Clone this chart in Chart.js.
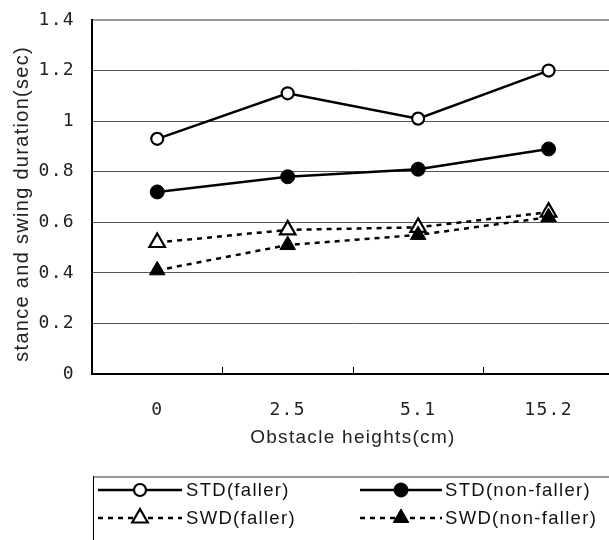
<!DOCTYPE html>
<html>
<head>
<meta charset="utf-8">
<script src="https://cdn.jsdelivr.net/npm/chart.js@4.4.1/dist/chart.umd.min.js"></script>
<style>
  html, body { margin: 0; padding: 0; background: #fff; overflow: hidden; }
  #wrap { position: absolute; left: 0; top: 0; width: 625px; height: 540px; }
</style>
</head>
<body>
<div id="wrap"><canvas id="c" width="625" height="540"></canvas></div>
<script>
// ---- data ----
const categories = ['0', '2.5', '5.1', '15.2'];
const stdFaller = [0.93, 1.11, 1.01, 1.20];
const stdNonFaller = [0.72, 0.78, 0.81, 0.89];
const swdFaller = [0.52, 0.57, 0.58, 0.64];
const swdNonFaller = [0.41, 0.51, 0.55, 0.62];
const seriesNames = ['STD(faller)', 'STD(non-faller)', 'SWD(faller)', 'SWD(non-faller)'];
const yTitle = 'stance and swing duration(sec)  ';
const xTitle = 'Obstacle heights(cm)';

const TEXT_FONT = "'Liberation Sans', Arial, sans-serif";
const TICK_FONT = "'DejaVu Sans Mono', monospace";

function ds(label, data, style, filled, dashed, order) {
  return {
    label, data, order,
    borderColor: '#000',
    borderWidth: 2.5,
    borderDash: dashed ? [5, 5] : [],
    tension: 0,
    fill: false,
    pointStyle: style,
    pointRadius: style === 'circle' ? (filled ? 7 : 6) : 9,
    pointBorderWidth: filled ? 1 : 2.2,
    pointBackgroundColor: filled ? '#000' : '#fff',
    pointBorderColor: '#000',
  };
}

const spacingPlugin = {
  id: 'spacing',
  beforeDraw(chart) { chart.ctx.letterSpacing = '1.3px'; }
};

const innerTicks = {
  id: 'innerTicks',
  beforeDatasetsDraw(chart) {
    const x = chart.scales.x, ctx = chart.ctx, b = chart.chartArea.bottom;
    ctx.save();
    ctx.strokeStyle = '#000';
    ctx.lineWidth = 1;
    for (let i = 0; i < categories.length - 1; i++) {
      const px = Math.round((x.getPixelForValue(i) + x.getPixelForValue(i + 1)) / 2) + 0.5;
      ctx.beginPath();
      ctx.moveTo(px, b);
      ctx.lineTo(px, b - 7);
      ctx.stroke();
    }
    ctx.restore();
  }
};

const boxLegend = {
  id: 'boxLegend',
  afterDraw(chart) {
    const ctx = chart.ctx;
    const W = chart.width;
    ctx.save();
    ctx.letterSpacing = '1.3px';
    ctx.strokeStyle = '#999';
    ctx.lineWidth = 2;
    ctx.beginPath(); ctx.moveTo(93, 477); ctx.lineTo(W, 477); ctx.stroke();
    ctx.strokeStyle = '#000';
    ctx.lineWidth = 1;
    ctx.beginPath(); ctx.moveTo(93.5, 476); ctx.lineTo(93.5, 540); ctx.stroke();

    const cols = [{x0: 98, x1: 182, tx: 186}, {x0: 360, x1: 442, tx: 445}];
    const rows = [490, 518];
    chart.data.datasets.forEach((d, i) => {
      const c = cols[i % 2], y = rows[Math.floor(i / 2)];
      ctx.save();
      ctx.strokeStyle = d.borderColor;
      ctx.lineWidth = d.borderWidth;
      ctx.setLineDash(d.borderDash);
      ctx.beginPath(); ctx.moveTo(c.x0, y); ctx.lineTo(c.x1, y); ctx.stroke();
      ctx.setLineDash([]);
      ctx.fillStyle = d.pointBackgroundColor;
      ctx.strokeStyle = d.pointBorderColor;
      ctx.lineWidth = d.pointBorderWidth;
      Chart.helpers.drawPoint(ctx, {pointStyle: d.pointStyle, radius: d.pointRadius, borderWidth: d.pointBorderWidth, rotation: 0}, (c.x0 + c.x1) / 2, y);
      ctx.restore();
      ctx.fillStyle = '#111';
      ctx.font = '18.5px ' + TEXT_FONT;
      ctx.textBaseline = 'middle';
      ctx.textAlign = 'left';
      ctx.fillText(d.label, c.tx, y + 1);
    });
    ctx.restore();
  }
};

new Chart(document.getElementById('c'), {
  type: 'line',
  data: {
    labels: categories,
    datasets: [
      ds(seriesNames[0], stdFaller, 'circle', false, false, 4),
      ds(seriesNames[1], stdNonFaller, 'circle', true, false, 3),
      ds(seriesNames[2], swdFaller, 'triangle', false, true, 2),
      ds(seriesNames[3], swdNonFaller, 'triangle', true, true, 1),
    ]
  },
  options: {
    responsive: false,
    devicePixelRatio: 1,
    animation: false,
    layout: { padding: { left: 10, top: 20, right: 3, bottom: 87 } },
    plugins: { legend: { display: false }, tooltip: { enabled: false } },
    scales: {
      x: {
        type: 'category',
        offset: true,
        grid: { display: false, drawTicks: false },
        border: { display: true, color: '#000', width: 2 },
        ticks: { color: '#222', font: { family: TICK_FONT, size: 18 }, padding: 26, maxRotation: 0 },
        title: { display: true, text: xTitle, color: '#222', font: { family: TEXT_FONT, size: 19 }, padding: { top: 0, bottom: 4 } },
        afterFit(s) { s.height = 79; }
      },
      y: {
        min: 0, max: 1.4,
        ticks: { stepSize: 0.2, color: '#222', font: { family: TICK_FONT, size: 18 }, padding: 17,
                 callback: (v) => String(+Number(v).toFixed(1)) },
        grid: {
          drawTicks: false,
          color: (c) => (c.tick && Math.abs(c.tick.value - 1.4) < 1e-6) ? '#999' : '#555',
          lineWidth: (c) => (c.tick && Math.abs(c.tick.value - 1.4) < 1e-6) ? 2 : 1,
        },
        border: { display: true, color: '#000', width: 2 },
        title: { display: true, text: yTitle, color: '#222', font: { family: TEXT_FONT, size: 20 }, padding: { top: 0, bottom: 0 } },
        afterFit(s) { s.width = 82; s.paddingTop = 0; s.paddingBottom = 0; }
      }
    }
  },
  plugins: [spacingPlugin, innerTicks, boxLegend]
});
</script>
</body>
</html>
